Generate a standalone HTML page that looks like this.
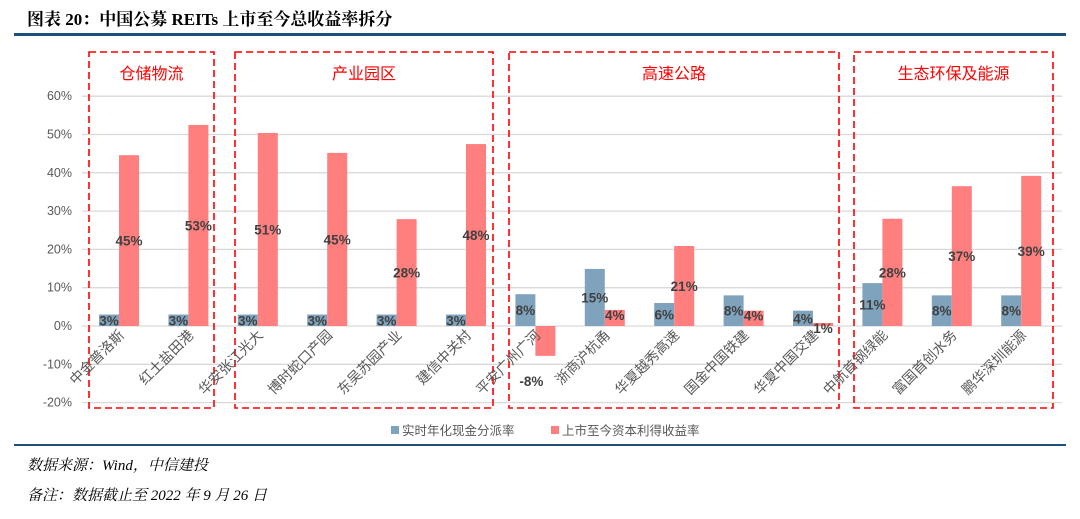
<!DOCTYPE html>
<html><head><meta charset="utf-8">
<style>
body{margin:0;width:1080px;height:514px;background:#fff;overflow:hidden;font-family:"Liberation Sans","Noto Sans CJK SC",sans-serif;}
</style></head>
<body>
<svg width="1080" height="514" xmlns="http://www.w3.org/2000/svg" id="chart">
<text x="27" y="25" font-family="Liberation Serif,Noto Serif CJK SC,serif" font-weight="bold" font-size="17" fill="#000">图表 20：中国公募 REITs 上市至今总收益率拆分</text>
<rect x="14" y="33" width="1052" height="3" fill="#1f4e79"/>
<g id="grid"></g><g id="boxes"></g><g id="bars"></g><g id="labels"></g>
<g>
<rect x="391" y="426" width="8" height="8" fill="#7fa3bd"/>
<text x="402" y="435" font-size="12.5" fill="#595959">实时年化现金分派率</text>
<rect x="551" y="426" width="8" height="8" fill="#ff7f7f"/>
<text x="562" y="435" font-size="12.5" fill="#595959">上市至今资本利得收益率</text>
</g>
<rect x="14" y="444" width="1052" height="2" fill="#1f4e79"/>
<text x="27" y="470" font-family="Liberation Serif,Noto Serif CJK SC,serif" font-style="italic" font-size="15" fill="#000">数据来源：Wind，中信建投</text>
<text x="27" y="500" font-family="Liberation Serif,Noto Serif CJK SC,serif" font-style="italic" font-size="15" fill="#000">备注：数据截止至 2022 年 9 月 26 日</text>
</svg>
<script>
const categories=["中金普洛斯","红土盐田港","华安张江光大","博时蛇口产园","东吴苏园产业","建信中关村","平安广州广河","浙商沪杭甬","华夏越秀高速","国金中国铁建","华夏中国交建","中航首钢绿能","富国首创水务","鹏华深圳能源"];
const dividend=[3,3,3,3,3,3,8.3,14.9,6,8,4,11.2,8,8];
const capital=[44.6,52.5,50.4,45.2,27.9,47.5,-7.8,4.2,20.9,4,0.8,28,36.5,39.2];
const dividendLabels=["3%","3%","3%","3%","3%","3%","8%","15%","6%","8%","4%","11%","8%","8%"];
const capitalLabels=["45%","53%","51%","45%","28%","48%","-8%","4%","21%","4%","1%","28%","37%","39%"];
const ticks=[60,50,40,30,20,10,0,-10,-20];
const groups=[{name:"仓储物流",x1:89,x2:214},{name:"产业园区",x1:235,x2:493},{name:"高速公路",x1:509,x2:839},{name:"生态环保及能源",x1:854,x2:1053}];
const NS="http://www.w3.org/2000/svg";
const y=v=>326-v*3.83;
const xc=i=>119+i*69.4;
const BW=20;
function mk(tag,attrs,parent,text){const e=document.createElementNS(NS,tag);for(const k in attrs)e.setAttribute(k,attrs[k]);if(text!==undefined)e.textContent=text;document.getElementById(parent).appendChild(e);return e;}
ticks.forEach(t=>{
  const l=mk('line',{x1:82,x2:1062,y1:y(t),y2:y(t),stroke:'#d9d9d9','stroke-width':1.3},'grid');
  
  
  const tx=mk('text',{x:72,y:y(t)+4,'text-anchor':'end','font-size':12.5,fill:'#595959'},'grid',t+'%');
  
  
});
groups.forEach(g=>{
  const r=mk('rect',{x:g.x1,y:52,width:g.x2-g.x1,height:356,fill:'none',stroke:'#ff0000','stroke-width':1.6,'stroke-dasharray':'7,4'},'boxes');
  
  
  const t=mk('text',{x:(g.x1+g.x2)/2,y:79,'text-anchor':'middle','font-size':16,fill:'#ff0000'},'boxes',g.name);
  
  
});
categories.forEach((c,i)=>{
  const cx=xc(i);
  const d=dividend[i],cp=capital[i];
  const b=mk('rect',{x:cx-BW,y:Math.min(y(d),y(0)),width:BW,height:Math.abs(y(d)-y(0)),fill:'#7fa3bd'},'bars');
  
  
  const r=mk('rect',{x:cx,y:Math.min(y(cp),y(0)),width:BW,height:Math.abs(y(cp)-y(0)),fill:'#ff7f7f'},'bars');
  
  
  const dl=mk('text',{x:cx-BW/2,y:(y(d)+y(0))/2+5,'text-anchor':'middle','font-size':13.5,'font-weight':'bold',fill:'#404040'},'labels',dividendLabels[i]);
  
  
  let ly=(y(cp)+y(0))/2+5;
  if(cp<0) ly=y(cp)+30;
  if(cp>=0&&cp<6) ly=y(cp)+10;
  const cl=mk('text',{x:cx+BW/2+(cp<0?-14:0),y:ly,'text-anchor':'middle','font-size':13.5,'font-weight':'bold',fill:'#404040'},'labels',capitalLabels[i]);
  
  
  const xl=mk('text',{x:cx+6,y:336,'text-anchor':'end','font-size':14,fill:'#595959',transform:`rotate(-45 ${cx+6} 336)`},'labels',c);
  
  
});
</script>
</body></html>
